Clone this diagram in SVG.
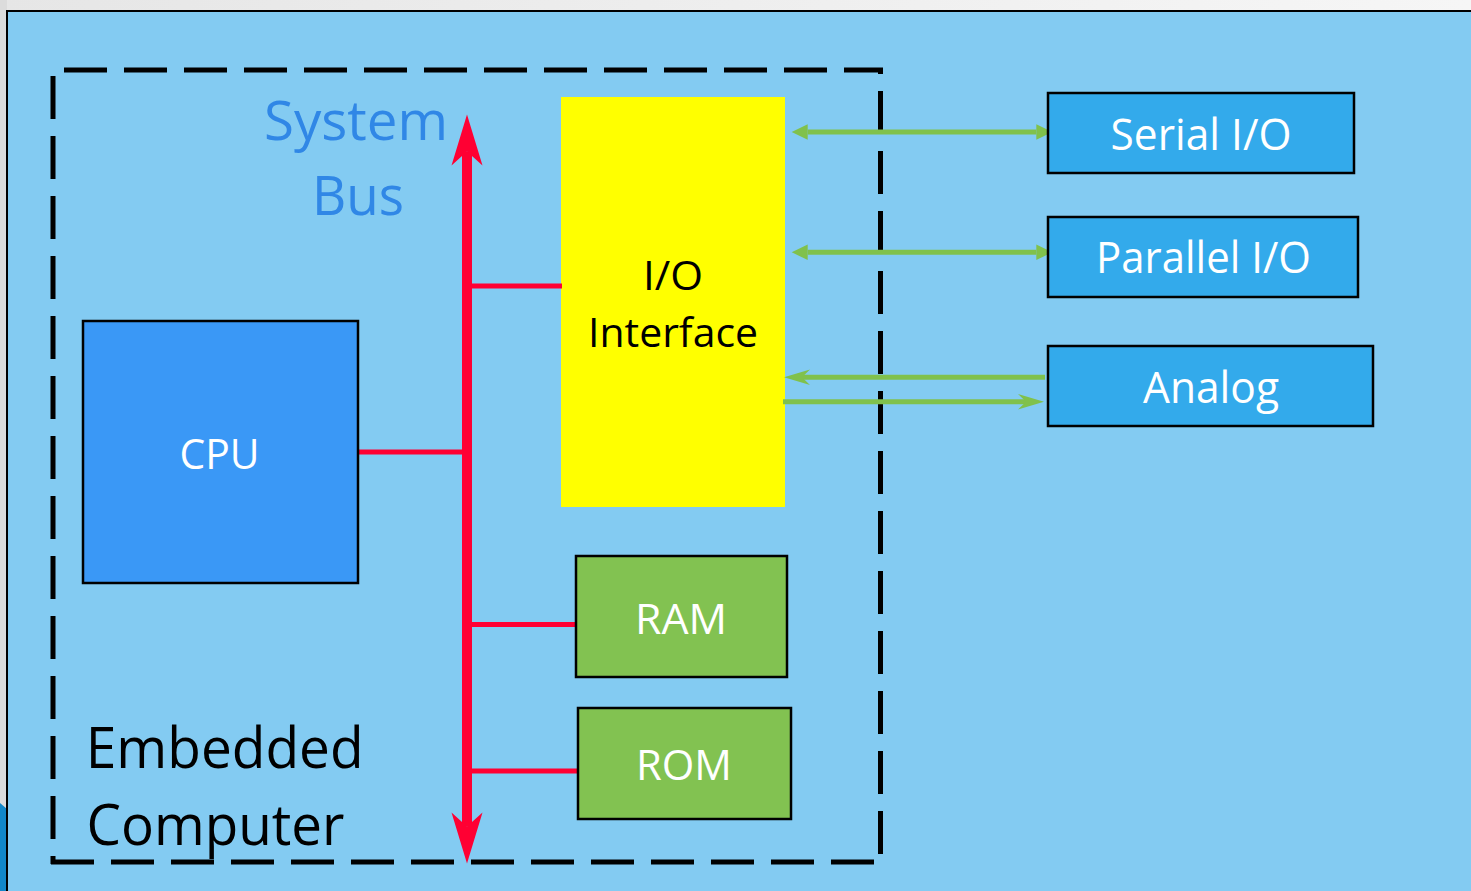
<svg xmlns="http://www.w3.org/2000/svg" width="1471" height="891" viewBox="0 0 1471 891">
<style>
text{font-family:"Open Sans","Noto Sans","Liberation Sans",sans-serif;}
.box{stroke:#000;stroke-width:2.5;}
.blue{fill:#33AAEB;}
.green{fill:#82C251;}
.wt{fill:#fff;text-anchor:middle;}
.bk{fill:#000;}
.dash{stroke:#000;stroke-width:5;stroke-dasharray:43 17;fill:none;}
.red{stroke:#FF0033;stroke-width:5;fill:none;}
.gl{stroke:#80C14C;stroke-width:5;fill:none;}
</style>
<defs>
<linearGradient id="bg" x1="0" y1="0" x2="1" y2="0">
<stop offset="0" stop-color="#E6E6E6"/>
<stop offset="1" stop-color="#F6F6F6"/>
</linearGradient>
<marker id="busHead" markerUnits="userSpaceOnUse" orient="auto-start-reverse" overflow="visible" markerWidth="60" markerHeight="40" refX="0" refY="0">
<path d="M-14,-15.5 L37,0 L-14,15.5 L0,0 Z" fill="#FF0033"/>
</marker>
<marker id="gHead" markerUnits="userSpaceOnUse" orient="auto-start-reverse" overflow="visible" markerWidth="20" markerHeight="20" refX="0" refY="0">
<path d="M0,-7.7 L16,0 L0,7.7 Z" fill="#80C14C"/>
</marker>
<marker id="gOpen" markerUnits="userSpaceOnUse" orient="auto" overflow="visible" markerWidth="30" markerHeight="20" refX="0" refY="0">
<path d="M-8,-7.8 L18,0 L-8,7.8 L0,0 Z" fill="#80C14C"/>
</marker>
</defs>
<rect x="0" y="0" width="1471" height="891" fill="url(#bg)"/>
<rect x="0" y="0" width="7" height="891" fill="#DCDCDC"/>
<polygon points="0,803 7,809 7,891 0,891" fill="#1287C8"/>
<rect x="7" y="11" width="1500" height="900" fill="#83CBF2" stroke="#000" stroke-width="2"/>

<g id="embedded-computer">
<line class="dash" x1="53" y1="70" x2="883" y2="70" stroke-dashoffset="49"/>
<line class="dash" x1="880.5" y1="70" x2="880.5" y2="862" stroke-dashoffset="39"/>
<line class="dash" x1="51" y1="862" x2="880.5" y2="862" stroke-dashoffset="0"/>
<line class="dash" x1="53" y1="70" x2="53" y2="864" stroke-dashoffset="54"/>
<text class="bk" x="224.7" y="768" font-size="56" text-anchor="middle" textLength="278" lengthAdjust="spacingAndGlyphs">Embedded</text>
<text class="bk" x="215.5" y="845" font-size="56" text-anchor="middle" textLength="258" lengthAdjust="spacingAndGlyphs">Computer</text>
</g>

<g id="io-interface">
<rect x="561" y="97" width="224" height="410" fill="#FFFF00"/>
<text class="bk" x="673" y="290" font-size="40" text-anchor="middle" textLength="60" lengthAdjust="spacingAndGlyphs">I/O</text>
<text class="bk" x="673" y="347" font-size="40" text-anchor="middle" textLength="170" lengthAdjust="spacingAndGlyphs">Interface</text>
</g>

<g id="connectors">
<line class="red" x1="472" y1="286" x2="562" y2="286"/>
<line class="red" x1="359" y1="452" x2="463" y2="452"/>
<line class="red" x1="472" y1="624.5" x2="577" y2="624.5"/>
<line class="red" x1="472" y1="771" x2="577" y2="771"/>
<line x1="467" y1="151.5" x2="467" y2="826.5" stroke="#FF0033" stroke-width="10" marker-start="url(#busHead)" marker-end="url(#busHead)"/>
<line class="gl" x1="807.7" y1="132" x2="1036.3" y2="132" marker-start="url(#gHead)" marker-end="url(#gHead)"/>
<line class="gl" x1="807.7" y1="252.3" x2="1036.3" y2="252.3" marker-start="url(#gHead)" marker-end="url(#gHead)"/>
<line class="gl" x1="1045" y1="377.3" x2="802" y2="377.3" marker-end="url(#gOpen)"/>
<line class="gl" x1="783" y1="401.7" x2="1026" y2="401.7" marker-end="url(#gOpen)"/>
</g>

<g id="system-bus-label">
<text x="356" y="140" font-size="55" fill="#3087E6" text-anchor="middle" textLength="184" lengthAdjust="spacingAndGlyphs">System</text>
<text x="358" y="215" font-size="55" fill="#3087E6" text-anchor="middle" textLength="92" lengthAdjust="spacingAndGlyphs">Bus</text>
</g>

<g id="cpu">
<rect class="box" x="83" y="321" width="275" height="262" fill="#3A98F6"/>
<text class="wt" x="219.5" y="469" font-size="42" textLength="80" lengthAdjust="spacingAndGlyphs">CPU</text>
</g>

<g id="ram">
<rect class="box green" x="576" y="556" width="211" height="121"/>
<text class="wt" x="681" y="633.5" font-size="42" textLength="92" lengthAdjust="spacingAndGlyphs">RAM</text>
</g>

<g id="rom">
<rect class="box green" x="578" y="708" width="213" height="111"/>
<text class="wt" x="684" y="779.5" font-size="42" textLength="96" lengthAdjust="spacingAndGlyphs">ROM</text>
</g>

<g id="serial-io">
<rect class="box blue" x="1048" y="93" width="306" height="80"/>
<text class="wt" x="1201" y="149.5" font-size="44" textLength="181" lengthAdjust="spacingAndGlyphs">Serial I/O</text>
</g>

<g id="parallel-io">
<rect class="box blue" x="1048" y="217" width="310" height="80"/>
<text class="wt" x="1203.5" y="273" font-size="44" textLength="215" lengthAdjust="spacingAndGlyphs">Parallel I/O</text>
</g>

<g id="analog">
<rect class="box blue" x="1048" y="346" width="325" height="80"/>
<text class="wt" x="1211" y="402.5" font-size="44" textLength="136" lengthAdjust="spacingAndGlyphs">Analog</text>
</g>
</svg>
